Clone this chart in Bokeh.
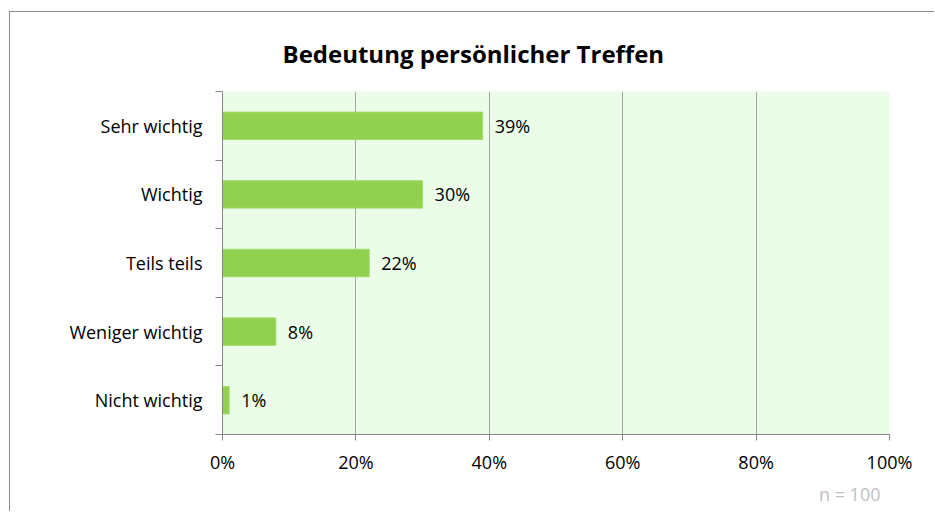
from bokeh.plotting import figure
from bokeh.models import FixedTicker, Title, NumeralTickFormatter, Range1d, ColumnDataSource
from bokeh.core.properties import value
from bokeh.embed import file_html
from bokeh.resources import INLINE

title_text = "Bedeutung persönlicher Treffen"
categories = ["Sehr wichtig", "Wichtig", "Teils teils", "Weniger wichtig", "Nicht wichtig"]
percent = [39, 30, 22, 8, 1]
x_ticks = [0, 0.2, 0.4, 0.6, 0.8, 1.0]
note = "n = 100"

FONT = "Open Sans"
FS = "18px"
n = len(categories)
centers = [n - i - 0.5 for i in range(n)]
boundaries = list(range(n + 1))

src = ColumnDataSource(dict(
    y=centers,
    x=[v / 100 for v in percent],
    lab=[f"{v}%" for v in percent],
))

p = figure(width=925, height=500, x_range=Range1d(0, 1), y_range=Range1d(0, n),
           output_backend="svg", toolbar_location=None,
           min_border_left=212, min_border_right=46, min_border_top=78, min_border_bottom=78)
p.styles = {"border-left": "1px solid #8a8a8a", "border-top": "1px solid #8a8a8a",
            "margin-left": "9px", "margin-top": "11px"}

p.background_fill_color = "#EBFDE9"
p.border_fill_color = "white"
p.outline_line_color = None
p.ygrid.visible = False
p.xgrid.ticker = FixedTicker(ticks=x_ticks)
p.xgrid.grid_line_color = "#A6A6A6"

p.hbar(y="y", right="x", left=0, height=0.4, source=src, fill_color="#92D050", line_color="#A4DA6A", line_width=1)
p.text(x="x", y="y", text="lab", source=src, x_offset=12, text_baseline="middle",
       text_align="left", text_font=value(FONT), text_font_size=FS, text_color="black")

xa = p.xaxis[0]
xa.ticker = FixedTicker(ticks=x_ticks)
xa.formatter = NumeralTickFormatter(format="0%")
xa.major_tick_out = 6
xa.major_tick_in = 0
xa.minor_tick_out = 0
xa.minor_tick_in = 0
xa.axis_line_color = "#868686"
xa.major_tick_line_color = "#868686"
xa.major_label_text_font = FONT
xa.major_label_text_font_size = FS
xa.major_label_text_color = "black"
xa.major_label_standoff = 9

ya = p.yaxis[0]
ya.ticker = FixedTicker(ticks=centers, minor_ticks=boundaries)
ya.major_label_overrides = {c: lab for c, lab in zip(centers, categories)}
ya.major_tick_line_color = None
ya.major_tick_out = 0
ya.major_tick_in = 0
ya.minor_tick_out = 7
ya.minor_tick_in = 0
ya.minor_tick_line_color = "#868686"
ya.axis_line_color = "#868686"
ya.major_label_text_font = FONT
ya.major_label_text_font_size = FS
ya.major_label_text_color = "black"
ya.major_label_standoff = 13

p.title.text = title_text
p.title.text_font = FONT
p.title.text_font_size = "24px"
p.title.text_font_style = "bold"
p.title.text_color = "black"
p.title.align = "left"
p.title.offset = 60
p.title.standoff = 44

p.add_layout(Title(text=note, align="right", offset=9, text_color="#BFBFBF",
                   text_font=FONT, text_font_size=FS, text_font_style="normal",
                   standoff=6), "below")

open("out.html", "w").write(file_html(p, INLINE))
